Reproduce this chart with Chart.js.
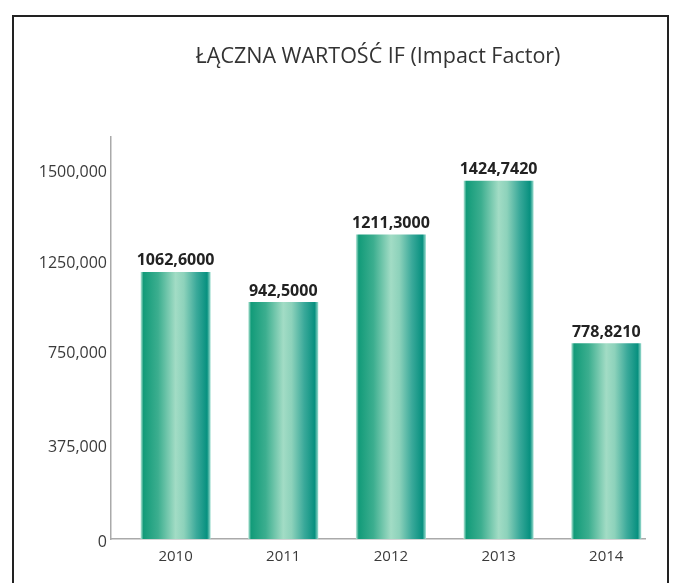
<!DOCTYPE html>
<html>
<head>
<meta charset="utf-8">
<script src="https://cdn.jsdelivr.net/npm/chart.js@4"></script>
<style>
  html, body { margin: 0; padding: 0; background: #fff; }
  #wrap { position: relative; width: 676px; height: 583px; overflow: hidden; }
  #frame {
    position: absolute; left: 12px; top: 15px; width: 657px; height: 620px;
    border: 2px solid #222; border-bottom: none; box-sizing: border-box;
  }
  #chart { position: absolute; left: 0; top: 0; }
</style>
</head>
<body>
<div id="wrap">
  <div id="frame"></div>
  <canvas id="chart" width="676" height="583"></canvas>
</div>
<script>
  // dane
  const chartTitle = "ŁĄCZNA WARTOŚĆ IF (Impact Factor)";
  const years = ["2010", "2011", "2012", "2013", "2014"];
  const ifValues = [1062.6, 942.5, 1211.3, 1424.742, 778.821];
  const yTickValues = [0, 375, 750, 1110, 1470];
  const yTickLabels = ["0", "375,000", "750,000", "1250,000", "1500,000"];

  const BAR_PCT = 0.65;

  function fmtValue(v) {
    return v.toFixed(4).replace(".", ",");
  }

  function barFill(ctx) {
    const chart = ctx.chart;
    const xs = chart.scales.x;
    const i = ctx.dataIndex;
    if (!xs || i === undefined) return "#3aa88a";
    const c = xs.getPixelForValue(i);
    const w = (xs.getPixelForValue(1) - xs.getPixelForValue(0)) * BAR_PCT;
    if (!Number.isFinite(c) || !Number.isFinite(w) || w <= 0) return "#3aa88a";
    const g = chart.ctx.createLinearGradient(c - w / 2, 0, c + w / 2, 0);
    g.addColorStop(0, "#bfe9dc");
    g.addColorStop(0.04, "#129b79");
    g.addColorStop(0.25, "#3cae8f");
    g.addColorStop(0.5, "#a2dcc5");
    g.addColorStop(0.62, "#8dd2bb");
    g.addColorStop(0.8, "#3aa99a");
    g.addColorStop(0.95, "#07907f");
    g.addColorStop(1, "#9fded0");
    return g;
  }

  const valueLabels = {
    id: "valueLabels",
    afterDatasetsDraw(chart) {
      const c = chart.ctx;
      const meta = chart.getDatasetMeta(0);
      c.save();
      c.font = "bold 16px 'Open Sans'";
      c.fillStyle = "#222";
      c.textAlign = "center";
      c.textBaseline = "middle";
      meta.data.forEach((el, i) => {
        c.fillText(fmtValue(ifValues[i]), el.x, el.y - 11);
      });
      c.restore();
    },
  };

  new Chart(document.getElementById("chart"), {
    type: "bar",
    data: {
      datasets: [
        {
          data: ifValues.map((v, i) => ({ x: i, y: v })),
          backgroundColor: barFill,
          borderWidth: 0,
          barPercentage: BAR_PCT,
          categoryPercentage: 1,
        },
      ],
    },
    options: {
      responsive: false,
      animation: false,
      layout: { padding: { top: 0, right: 31, bottom: 18, left: 0 } },
      plugins: {
        legend: { display: false },
        tooltip: { enabled: false },
        title: {
          display: true,
          fullSize: false,
          text: chartTitle,
          color: "#333",
          font: { family: "Open Sans", size: 21.5, weight: "normal" },
          padding: { top: 44, bottom: 67 },
        },
      },
      scales: {
        x: {
          type: "linear",
          offset: false,
          min: -0.6,
          max: 4.36,
          grid: { display: false, drawTicks: false },
          border: { display: true, color: "#aaa", width: 1.5 },
          afterBuildTicks: (s) => {
            s.ticks = years.map((_, i) => ({ value: i }));
          },
          afterFit: (s) => {
            s.height = 26;
          },
          ticks: {
            padding: 9,
            color: "#3a3a3a",
            font: { family: "Open Sans", size: 15 },
            callback: (v) => years[v],
          },
        },
        y: {
          min: 0,
          max: 1600,
          grid: { display: false, drawTicks: false },
          border: { display: true, color: "#aaa", width: 1.5 },
          afterBuildTicks: (s) => {
            s.ticks = yTickValues.map((v) => ({ value: v }));
          },
          afterFit: (s) => {
            s.width = 111;
          },
          ticks: {
            padding: 4,
            labelOffset: 3,
            color: "#3a3a3a",
            font: { family: "Open Sans", size: 16 },
            callback: (v, i) => yTickLabels[i],
          },
        },
      },
    },
    plugins: [valueLabels],
  });
</script>
</body>
</html>
